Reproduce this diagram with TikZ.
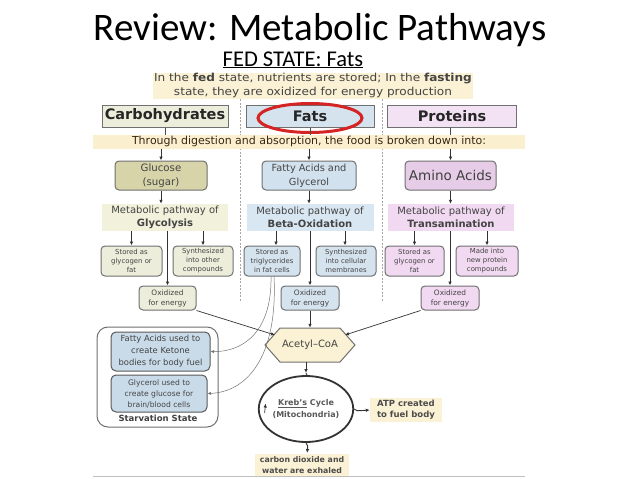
\documentclass[tikz,border=0pt]{standalone}
\usepackage{fontspec}
\setmainfont{DejaVu Sans}
\newfontfamily\titlefont{Carlito}
\newfontfamily\widefont{DejaVu Sans}[FakeStretch=1.1]
\usetikzlibrary{arrows.meta,shapes.geometric}
\definecolor{cream}{HTML}{FBF1D4}
\definecolor{bandc}{HTML}{FAEFCF}
\definecolor{bordc}{HTML}{707070}
\definecolor{txtc}{HTML}{444444}
\definecolor{carbA}{HTML}{EDEDDC}
\definecolor{carbB}{HTML}{D6D4A8}
\definecolor{carbC}{HTML}{F1F1DC}
\definecolor{fatA}{HTML}{D5E3EF}
\definecolor{fatB}{HTML}{D2E1EE}
\definecolor{fatC}{HTML}{D9E7F3}
\definecolor{proA}{HTML}{F3E2F3}
\definecolor{proB}{HTML}{E6CCE6}
\definecolor{proC}{HTML}{F1D9F1}
\definecolor{starv}{HTML}{C9DBE9}
\definecolor{redc}{HTML}{D42424}
\begin{document}
\begin{tikzpicture}[x=1pt,y=-1pt,
  cat/.style={draw=bordc,line width=1,minimum height=22,inner sep=0,font=\fontsize{14.5}{16}\selectfont\bfseries,text=black!85},
  food/.style={draw=bordc,line width=1,rounded corners=4,minimum height=29,inner sep=0,align=center,text=txtc},
  pathbox/.style={minimum height=27,inner sep=0,align=center,font=\fontsize{10}{13}\selectfont,text=txtc},
  small/.style={draw=bordc,line width=1,rounded corners=4,minimum height=30,inner sep=0,align=center,font=\fontsize{6.9}{9}\selectfont,text=txtc},
  oxi/.style={draw=bordc,line width=1,rounded corners=4,minimum width=58,minimum height=24,inner sep=0,align=center,font=\fontsize{7.4}{10}\selectfont,text=txtc},
  note/.style={fill=bandc,inner sep=0,align=center,text=txtc},
  arr/.style={-{Latex[length=4,width=3.5]},line width=0.9,draw=black!80},
  ln/.style={line width=0.9,draw=black!70},
  curv/.style={-{Latex[length=3.5,width=3]},line width=0.5,draw=black!55},
  dsh/.style={dashed,dash pattern=on 2pt off 1.5pt,line width=0.6,draw=black!35}]
\useasboundingbox[fill=white] (0,0) rectangle (638,479);

% titles
\node[anchor=base,font=\titlefont\fontsize{39}{42}\selectfont] (title) at (320,40) {Review: Metabolic Pathways};
\node[anchor=base,font=\titlefont\fontsize{22.5}{25}\selectfont] (sub) at (293,66) {\underline{FED STATE: Fats}};

% dashed separators
\draw[dsh] (240,99) -- (240,302);
\draw[dsh] (382,99) -- (382,302);

% top note
\node[note,fill=cream,minimum width=320,minimum height=26,font=\widefont\fontsize{11}{13.5}\selectfont] (note) at (313,85.5)
  {In the \textbf{fed} state, nutrients are stored; In the \textbf{fasting}\\state, they are oxidized for energy production};

% categories
\node[cat,fill=carbA,minimum width=126] (carb) at (165,116) {Carbohydrates};
\node[cat,fill=fatA,minimum width=128] (fats) at (310,116) {Fats};
\node[cat,fill=proA,minimum width=129] (prot) at (452,116) {Proteins};
\draw[redc,line width=3] (310,118) ellipse [x radius=52,y radius=14.5];

% band
\draw[ln] (carb.south) -- ++(0,8);
\draw[ln] (fats.south) -- ++(0,8);
\draw[ln] ([xshift=-2]prot.south) -- ++(0,8);
\node[note,minimum width=432,minimum height=14,font=\fontsize{11}{12}\selectfont,text=black!70!brown] (band) at (309,141.5)
  {Through digestion and absorption, the food is broken down into:};

% foods
\node[food,fill=carbB,minimum width=92,font=\fontsize{10.2}{14}\selectfont] (gluc) at (161,175.5) {Glucose\\(sugar)};
\node[food,fill=fatB,minimum width=94,font=\fontsize{9.8}{14}\selectfont] (fatty) at (309,175.5) {Fatty Acids and\\Glycerol};
\node[food,fill=proB,minimum width=91,font=\fontsize{13.5}{15}\selectfont,text=black!75] (amino) at (450.5,175.5) {Amino Acids};
\draw[arr] (gluc.north |- band.south) -- (gluc.north);
\draw[arr] (fatty.north |- band.south) -- (fatty.north);
\draw[arr] (amino.north |- band.south) -- (amino.north);

% pathways
\node[pathbox,fill=carbC,minimum width=126] (cpath) at (165,217.5) {Metabolic pathway of\\\textbf{Glycolysis}};
\node[pathbox,fill=fatC,minimum width=127] (fpath) at (310,217.5) {Metabolic pathway of\\\textbf{Beta-Oxidation}};
\node[pathbox,fill=proC,minimum width=126] (ppath) at (451,217.5) {Metabolic pathway of\\\textbf{Transamination}};
\draw[arr] (gluc.south) -- (gluc.south |- cpath.north);
\draw[arr] (fatty.south) -- (fatty.south |- fpath.north);
\draw[arr] (amino.south) -- (amino.south |- ppath.north);

% small boxes
\node[small,fill=carbA,minimum width=61] (s1) at (131.5,261) {Stored as\\glycogen or\\fat};
\node[small,fill=carbA,minimum width=60] (s2) at (203,261) {Synthesized\\into other\\compounds};
\node[small,fill=fatA,minimum width=56] (s3) at (272,261) {Stored as\\triglycerides\\in fat cells};
\node[small,fill=fatA,minimum width=60] (s4) at (346,261) {Synthesized\\into cellular\\membranes};
\node[small,fill=proC,minimum width=59] (s5) at (414.5,261) {Stored as\\glycogen or\\fat};
\node[small,fill=proC,minimum width=62] (s6) at (487,261) {Made into\\new protein\\compounds};
\foreach \s in {s1,s2,s5,s6} \draw[arr] (\s.north |- cpath.south) -- (\s.north);
\draw[arr] ([xshift=4]s3.north |- fpath.south) -- ([xshift=4]s3.north);
\draw[arr] ([xshift=-1]s4.north |- fpath.south) -- ([xshift=-1]s4.north);

% oxidized
\node[oxi,fill=carbA,minimum width=57] (o1) at (167.5,298) {Oxidized\\for energy};
\node[oxi,fill=fatA] (o2) at (310,298) {Oxidized\\for energy};
\node[oxi,fill=proC] (o3) at (450,298) {Oxidized\\for energy};
\draw[arr] (o1.north |- cpath.south) -- (o1.north);
\draw[arr] (o2.north |- fpath.south) -- (o2.north);
\draw[arr] (o3.north |- ppath.south) -- (o3.north);

% acetyl-CoA
\node[inner sep=0,minimum width=90,minimum height=34] (acetyl) at (310,345) {};
\draw[fill=cream,draw=bordc,line width=1] (265,345) -- (280,328) -- (340,328) -- (355,345) -- (340,362) -- (280,362) -- cycle;
\node[font=\fontsize{10}{12}\selectfont,text=txtc] (acetyltxt) at (acetyl.center) {Acetyl--CoA};
\coordinate (hexL) at (275,335);
\coordinate (hexR) at (345,335);
\draw[arr,line width=0.7] (o1.south east) -- (hexL);
\draw[arr] (o2.south) -- (acetyl.north);
\draw[arr,line width=0.7] (o3.south west) -- (hexR);

% starvation
\node[draw=bordc,line width=1,rounded corners=11,minimum width=121,minimum height=100,inner sep=0] (starvbox) at (157.5,377) {};
\node[draw=black!65,line width=1,fill=starv,rounded corners=5,minimum width=99,minimum height=39,inner sep=0,align=center,font=\fontsize{8.4}{12}\selectfont,text=txtc] (sv1) at (160.5,351.5) {Fatty Acids used to\\create Ketone\\bodies for body fuel};
\node[draw=black!65,line width=1,fill=starv,rounded corners=5,minimum width=96,minimum height=37,inner sep=0,align=center,font=\fontsize{7.6}{11}\selectfont,text=txtc] (sv2) at (159,393.5) {Glycerol used to\\create glucose for\\brain/blood cells};
\node[font=\fontsize{8.5}{10}\selectfont\bfseries,text=black!75] (svlab) at (158,418.5) {Starvation State};
\draw[curv] ([xshift=-1]s3.south) .. controls (272,335) and (240,352) .. (sv1.east);
\draw[curv] ([xshift=2]s3.south) .. controls (278,360) and (245,392) .. (sv2.east);

% Kreb's cycle
\node[draw=black!80,line width=1.8,ellipse,minimum width=84,minimum height=66,inner sep=0,align=center,font=\fontsize{8}{11.5}\selectfont\bfseries,text=black!65] (kreb) at (306,409) {\underline{Kreb's} Cycle\\(Mitochondria)};
\draw[arr] (acetyl.south -| 306,0) -- (306,373);
\draw[line width=0.9,draw=black!80] (306,373) .. controls (306,376) and (308,377) .. (311,376.5);
\draw[arr,line width=0.7] (264.6,413) -- (265.6,403.5);
\node[note,fill=cream,minimum width=72,minimum height=24,font=\fontsize{8.5}{11}\selectfont\bfseries,text=black!70] (atp) at (406,410) {ATP created\\to fuel body};
\node[note,fill=cream,minimum width=94,minimum height=23,font=\fontsize{7.8}{10.5}\selectfont\bfseries,text=black!70] (co2) at (302,465) {carbon dioxide and\\water are exhaled};
\draw[arr] (kreb.east) .. controls (356,411) .. (atp.west);
\draw[arr] (kreb.south) .. controls (308,446) .. (307,453);

% bottom rule
\draw[line width=0.8,draw=black!25] (93,476) -- (525,476);
\end{tikzpicture}
\end{document}
